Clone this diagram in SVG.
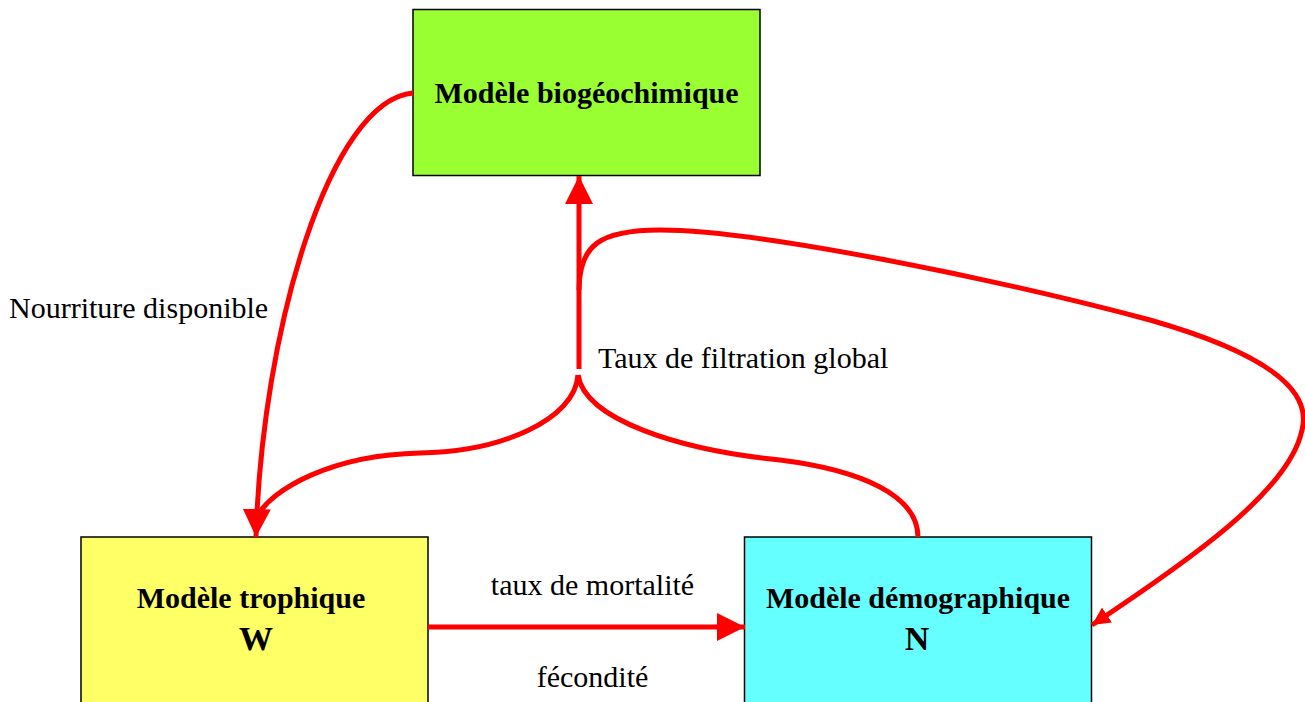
<svg xmlns="http://www.w3.org/2000/svg" width="1305" height="702" viewBox="0 0 1305 702">
  <style>
    .box { stroke: #000; stroke-width: 1.5; }
    .title { font-family: "Liberation Serif", "Times New Roman", serif; font-weight: bold; font-size: 30px; fill: #000; text-anchor: middle; }
    .sym { font-family: "Liberation Serif", "Times New Roman", serif; font-weight: bold; font-size: 34px; fill: #000; text-anchor: middle; }
    .lbl { font-family: "Liberation Serif", "Times New Roman", serif; font-size: 30px; fill: #000; }
    .flow { fill: none; stroke: #FF0000; stroke-width: 5; }
  </style>
  <defs>
    <marker id="head" markerUnits="userSpaceOnUse" markerWidth="30" markerHeight="30" refX="28" refY="14" orient="auto">
      <path d="M0,0 L28,14 L0,28 Z" fill="#FF0000"/>
    </marker>
    <marker id="headSmall" markerUnits="userSpaceOnUse" markerWidth="22" markerHeight="22" refX="18" refY="9" orient="auto">
      <path d="M0,0 L18,9 L0,18 Z" fill="#FF0000"/>
    </marker>
  </defs>

  <rect width="1305" height="702" fill="#FFFFFF"/>

  <g id="node-biogeochimique">
    <rect class="box" x="413" y="9.5" width="347" height="166" fill="#99FF33"/>
    <text class="title" x="586.5" y="103">Modèle biogéochimique</text>
  </g>

  <g id="node-trophique">
    <rect class="box" x="81" y="537" width="347" height="170" fill="#FFFF66"/>
    <text class="title" x="251" y="608">Modèle trophique</text>
    <text class="sym" x="256" y="650">W</text>
  </g>

  <g id="node-demographique">
    <rect class="box" x="744.5" y="537" width="347" height="170" fill="#66FFFF"/>
    <text class="title" x="918" y="608">Modèle démographique</text>
    <text class="sym" x="917" y="650">N</text>
  </g>

  <g id="connectors">
    <!-- available food: biogeochemical -> trophic -->
    <path class="flow" d="M413,93 C 330,100 262,330 256,537" marker-end="url(#head)"/>
    <!-- global filtration rate: up into the biogeochemical model -->
    <path class="flow" d="M579,369 L579,176" marker-end="url(#head)"/>
    <!-- branches joining the filtration rate from both models -->
    <path class="flow" d="M578,375 C 575,420 500,452 420,453 C 330,455 272,490 258,515"/>
    <path class="flow" d="M578,375 C 585,420 680,450 780,460 C 860,470 918,495 918,537"/>
    <!-- feedback loop to the demographic model -->
    <path class="flow" d="M579,290 C 579,245 600,230 660,230 C 760,230 1000,280 1150,320 C 1290,360 1310,400 1302,430 C 1290,490 1190,560 1092,625" marker-end="url(#headSmall)"/>
    <!-- mortality / fecundity -->
    <path class="flow" d="M428,627 L745,627" marker-end="url(#head)"/>
  </g>

  <g id="labels">
    <text class="lbl" x="9" y="318">Nourriture disponible</text>
    <text class="lbl" x="598" y="368">Taux de filtration global</text>
    <text class="lbl" x="592.5" y="595" text-anchor="middle">taux de mortalité</text>
    <text class="lbl" x="592.5" y="687" text-anchor="middle">fécondité</text>
  </g>
</svg>
